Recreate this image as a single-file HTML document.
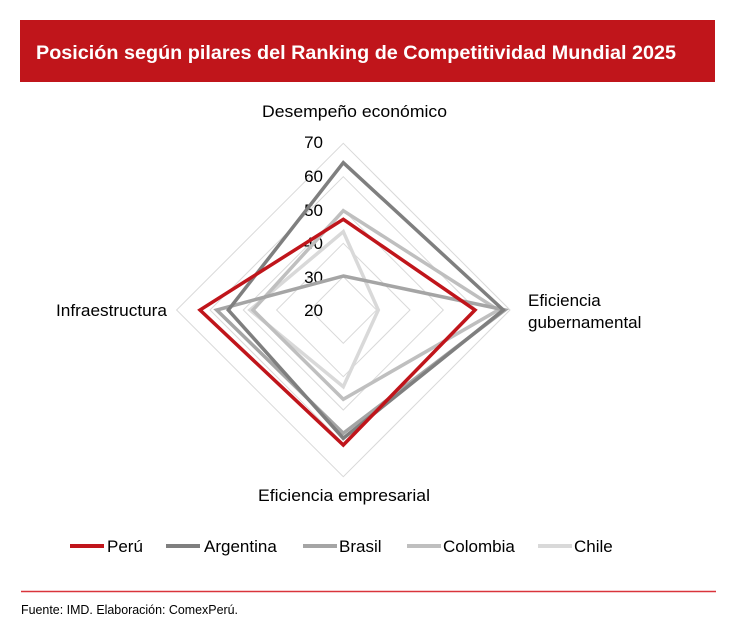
<!DOCTYPE html>
<html><head><meta charset="utf-8"><style>
body{margin:0;width:733px;height:639px;background:#fff;font-family:"Liberation Sans",Arial,sans-serif;overflow:hidden}
</style></head><body>
<svg width="733" height="639" viewBox="0 0 733 639" xmlns="http://www.w3.org/2000/svg" font-family="Liberation Sans, Arial, sans-serif">
<rect x="20" y="20" width="695" height="62" fill="#c0151b"/>
<text x="36" y="59" fill="#fff" font-size="19.6" font-weight="bold" textLength="640" lengthAdjust="spacingAndGlyphs">Posición según pilares del Ranking de Competitividad Mundial 2025</text>
<g fill="none" stroke="#d9d9d9" stroke-width="1">
<polygon points="343.3,276.7 376.6,310 343.3,343.3 310,310"/>
<polygon points="343.3,243.3 410,310 343.3,376.7 276.6,310"/>
<polygon points="343.3,210 443.3,310 343.3,410 243.3,310"/>
<polygon points="343.3,176.7 476.6,310 343.3,443.3 210,310"/>
<polygon points="343.3,143.3 510,310 343.3,476.7 176.6,310"/>
</g>
<g font-size="17" fill="#000" text-anchor="end">
<text x="323" y="316">20</text><text x="323" y="283">30</text><text x="323" y="249">40</text><text x="323" y="216">50</text><text x="323" y="182">60</text><text x="323" y="148">70</text>
</g>
<g fill="none" stroke-width="3.5" stroke-linejoin="miter">
<polygon stroke="#d9d9d9" points="343.3,231.7 378.3,310 343.3,386.7 250,310"/>
<polygon stroke="#bfbfbf" points="343.3,210.7 498.3,310 343.3,399.3 253,310"/>
<polygon stroke="#a5a5a5" points="343.3,276 505,310 343.3,433.3 216.7,310"/>
<polygon stroke="#7f7f7f" points="343.3,162.7 503.3,310 343.3,438.3 228.3,310"/>
<polygon stroke="#c0151b" points="343.3,219.3 475,310 343.3,445 200,310"/>
</g>
<g font-size="17" fill="#000">
<text x="262" y="117" textLength="185" lengthAdjust="spacingAndGlyphs">Desempeño económico</text>
<text x="528" y="306">Eficiencia</text>
<text x="528" y="328">gubernamental</text>
<text x="56" y="316" textLength="111" lengthAdjust="spacingAndGlyphs">Infraestructura</text>
<text x="258" y="501" textLength="172" lengthAdjust="spacingAndGlyphs">Eficiencia empresarial</text>
</g>
<g stroke-width="4">
<line x1="70" y1="546" x2="104" y2="546" stroke="#c0151b"/>
<line x1="166" y1="546" x2="200" y2="546" stroke="#7f7f7f"/>
<line x1="303" y1="546" x2="337" y2="546" stroke="#a5a5a5"/>
<line x1="407" y1="546" x2="441" y2="546" stroke="#bfbfbf"/>
<line x1="538" y1="546" x2="572" y2="546" stroke="#d9d9d9"/>
</g>
<g font-size="17" fill="#000">
<text x="107" y="552">Perú</text><text x="204" y="552">Argentina</text><text x="339" y="552">Brasil</text><text x="443" y="552">Colombia</text><text x="574" y="552">Chile</text>
</g>
<line x1="21" y1="591.5" x2="716" y2="591.5" stroke="#d9343b" stroke-width="1.5"/>
<text x="21" y="614" font-size="12.5" fill="#000" textLength="217" lengthAdjust="spacingAndGlyphs">Fuente: IMD. Elaboración: ComexPerú.</text>
</svg>
</body></html>
